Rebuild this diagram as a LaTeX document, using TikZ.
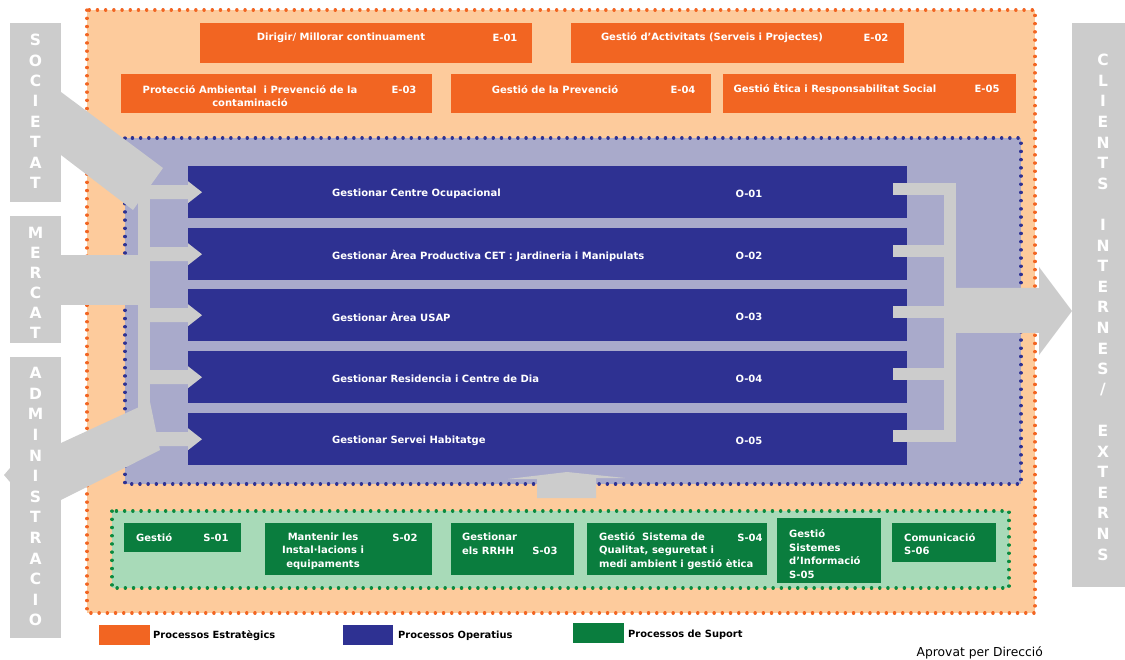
\documentclass[tikz,border=0pt]{standalone}
\usepackage{fontspec}
\setmainfont{DejaVu Sans}
\definecolor{estrat}{HTML}{F26522}
\definecolor{estratbg}{HTML}{FDCB9C}
\definecolor{operat}{HTML}{2E3192}
\definecolor{operatbg}{HTML}{A9AACB}
\definecolor{suport}{HTML}{0A7D3E}
\definecolor{suportbg}{HTML}{A8DAB8}
\definecolor{suportdot}{HTML}{0B8A3E}
\definecolor{fletxa}{HTML}{CCCCCC}
\begin{document}
\begin{tikzpicture}[x=1pt,y=-1pt,
  caixa/.style={anchor=north west,inner sep=0pt,draw=none},
  txt/.style={text=white,inner sep=0pt,yshift=-1.5pt,font=\bfseries\fontsize{10}{13.5}\selectfont},
  lletra/.style={text=white,inner sep=0pt,font=\bfseries\fontsize{15.5}{15.5}\selectfont},
  punts/.style={line width=3.2pt,dash pattern=on 0.3pt off 7.9pt,line cap=round},
  llegenda/.style={text=black,anchor=west,inner sep=0pt,font=\bfseries\fontsize{9.9}{11}\selectfont}]
\useasboundingbox (0,0) rectangle (1125,660);
% fons
\fill[estratbg] (87,10) rectangle (1035,613);
\draw[punts,estrat] (87,10) rectangle (1035,613);
\fill[operatbg] (125,138) rectangle (1021,484);
\draw[punts,operat] (125,138) rectangle (1021,484);
\fill[suportbg] (112,511) rectangle (1009,588);
\draw[punts,suportdot] (112,511) rectangle (1009,588);

% estrategics
\node[caixa,fill=estrat,minimum width=332,minimum height=40] (e01) at (200,23) {};
\node[caixa,fill=estrat,minimum width=333,minimum height=40] (e02) at (571,23) {};
\node[caixa,fill=estrat,minimum width=311,minimum height=39] (e03) at (121,74) {};
\node[caixa,fill=estrat,minimum width=260,minimum height=39] (e04) at (451,74) {};
\node[caixa,fill=estrat,minimum width=293,minimum height=39] (e05) at (723,74) {};

% operatius
\foreach \i/\yt in {1/166,2/228,3/289,4/351,5/413}
  \node[caixa,fill=operat,minimum width=719,minimum height=52] (o\i) at (188,\yt) {};

% fletxes
\fill[fletxa] (10,23) rectangle (61,202);
\fill[fletxa] (10,216) rectangle (61,343);
\fill[fletxa] (10,357) rectangle (61,638);
\fill[fletxa] (10,468) -- (4,475) -- (10,482) -- cycle;
\fill[fletxa] (61,92) -- (163,168) -- (133,210) -- (61,155) -- cycle;
\fill[fletxa] (61,255) rectangle (150,305);
\fill[fletxa] (61,443) -- (150,402) -- (160,450) -- (61,500) -- cycle;
\fill[fletxa] (138,185) rectangle (150,455);
\foreach \i in {1,...,5}{
  \fill[fletxa] (o\i.west) ++(-38,-7) -- ++(38,0) -- ++(0,-4) -- ++(14,11)
    -- ++(-14,11) -- ++(0,-4) -- ++(-38,0) -- cycle;
  \fill[fletxa] (o\i.east) ++(-14,-9) rectangle ++(51,12);
}
\fill[fletxa] (944,183) rectangle (956,442);
\fill[fletxa] (956,288) -- (1039,288) -- (1039,267) -- (1072,311) -- (1039,355)
  -- (1039,333) -- (956,333) -- cycle;
\fill[fletxa] (1072,23) rectangle (1125,587);
\fill[fletxa] (537,498) -- (537,479) -- (508,479) -- (567,472) -- (625,478)
  -- (596,478) -- (596,498) -- cycle;

\foreach \c [count=\k from 0] in {S,O,C,I,E,T,A,T}
  \node[lletra] (soc\k) at (35.5,40+20.4*\k) {\c};
\foreach \c [count=\k from 0] in {M,E,R,C,A,T}
  \node[lletra] (mer\k) at (35.5,233+20*\k) {\c};
\foreach \c [count=\k from 0] in {A,D,M,I,N,I,S,T,R,A,C,I,O}
  \node[lletra] (adm\k) at (35.5,373+20.6*\k) {\c};
\foreach \c [count=\k from 0] in {C,L,I,E,N,T,S}
  \node[lletra] (cli\k) at (1103,60+20.6*\k) {\c};
\foreach \c [count=\k from 0] in {I,N,T,E,R,N,E,S,/}
  \node[lletra] (int\k) at (1103,224.8+20.6*\k) {\c};
\foreach \c [count=\k from 0] in {E,X,T,E,R,N,S}
  \node[lletra] (ext\k) at (1103,430.8+20.6*\k) {\c};

% suport
\node[caixa,fill=suport,minimum width=117,minimum height=29] (s01) at (124,523) {};
\node[caixa,fill=suport,minimum width=167,minimum height=52] (s02) at (265,523) {};
\node[caixa,fill=suport,minimum width=123,minimum height=52] (s03) at (451,523) {};
\node[caixa,fill=suport,minimum width=180,minimum height=52] (s04) at (587,523) {};
\node[caixa,fill=suport,minimum width=104,minimum height=65] (s05) at (777,518) {};
\node[caixa,fill=suport,minimum width=104,minimum height=39] (s06) at (892,523) {};

% textos
\node[txt] (e01t) at (341,36) {Dirigir/ Millorar continuament};
\node[txt] (e01c) at (505,36) {E-01};
\node[txt] (e02t) at (712,36) {Gestió d’Activitats (Serveis i Projectes)};
\node[txt] (e02c) at (876,36) {E-02};
\node[txt,align=center] (e03t) at (250,94.5) {Protecció Ambiental~ i Prevenció de la\\contaminació};
\node[txt] (e03c) at (404,88) {E-03};
\node[txt] (e04t) at (555,88) {Gestió de la Prevenció};
\node[txt] (e04c) at (683,88) {E-04};
\node[txt] (e05t) at (835,87) {Gestió Ètica i Responsabilitat Social};
\node[txt] (e05c) at (987,87) {E-05};

\foreach \i/\nom in {1/Gestionar Centre Ocupacional,
    2/Gestionar Àrea Productiva CET : Jardineria i Manipulats,
    3/Gestionar Àrea USAP,
    4/Gestionar Residencia i Centre de Dia,
    5/Gestionar Servei Habitatge}{
  \node[txt,anchor=west] (ot\i) at ([xshift=144]o\i.west) {\nom};
  \node[txt] (oc\i) at ([xshift=561]o\i.west) {O-0\i};
}

\node[txt,anchor=west] (s01t) at (136,536) {Gestió};
\node[txt] (s01c) at (216,536) {S-01};
\node[txt,align=center] (s02t) at (323,549.5) {Mantenir les\\Instal·lacions i\\equipaments};
\node[txt] (s02c) at (405,536) {S-02};
\node[txt,align=left,anchor=west] (s03t) at (462,542.5) {Gestionar\\els RRHH};
\node[txt] (s03c) at (545,549) {S-03};
\node[txt,align=left,anchor=west] (s04t) at (599,549.5) {Gestió~ Sistema de\\Qualitat, seguretat i\\medi ambient i gestió ètica};
\node[txt] (s04c) at (750,536) {S-04};
\node[txt,align=left,anchor=west] (s05t) at (789,552.5) {Gestió\\Sistemes\\d’Informació\\S-05};
\node[txt,align=left,anchor=west] (s06t) at (904,542.5) {Comunicació\\S-06};

% llegenda
\node[caixa,fill=estrat,minimum width=51,minimum height=20] (lge) at (99,625) {};
\node[llegenda] (lget) at (153,636) {Processos Estratègics};
\node[caixa,fill=operat,minimum width=50,minimum height=20] (lgo) at (343,625) {};
\node[llegenda] (lgot) at (398,636) {Processos Operatius};
\node[caixa,fill=suport,minimum width=51,minimum height=20] (lgs) at (573,623) {};
\node[llegenda] (lgst) at (628,635) {Processos de Suport};
\node[text=black,anchor=east,inner sep=0pt,font=\fontsize{12.3}{14}\selectfont] (aprov) at (1043,653) {Aprovat per Direcció};
\end{tikzpicture}
\end{document}
